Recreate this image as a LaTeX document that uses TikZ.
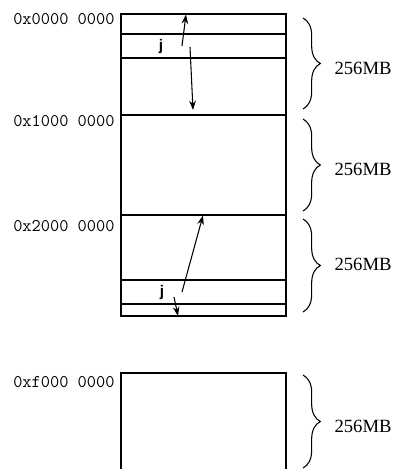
\documentclass[tikz,border=0pt]{standalone}
\usepackage{fontspec}
\setmainfont{Liberation Serif}
\setsansfont{Liberation Sans}
\usetikzlibrary{decorations.pathreplacing,arrows.meta,positioning}

\begin{document}
\begin{tikzpicture}[x=0.75pt,y=-0.75pt,>={Stealth[length=7pt,width=5pt]},line width=0.8pt,
        addr/.style={anchor=base east,inner sep=0pt,font=\ttfamily\fontsize{13.4}{15}\selectfont},
        size label/.style={anchor=base west,inner sep=0pt,font=\fontsize{14}{16}\selectfont},
        index label/.style={anchor=base,inner sep=0pt,font=\sffamily\bfseries\fontsize{11.5}{13}\selectfont},
        region brace/.style={decorate,decoration={brace,amplitude=13pt}}]
    \useasboundingbox (0,0) rectangle (393,469);

            % Memory

            \draw (121,14) rectangle (286,316);
            \foreach \y in {34,58,115,215,280,304} {
                \draw (121,\y) -- (286,\y);
            }
            \draw (121,469) -- (121,373) -- (286,373) -- (286,469);

            % Addresses

            \node [addr] (a0) at (115,24) {0x0000 0000};
            \node [addr] (a1) at (115,126) {0x1000 0000};
            \node [addr] (a2) at (115,231) {0x2000 0000};
            \node [addr] (af) at (115,387) {0xf000 0000};

            % Sizes

            \foreach \top/\bot/\base [count=\i] in {18/109/74,119/211/175,219/312/270,375/468/432} {
                \draw [region brace] (303,\top) -- (303,\bot);
                \node [size label] (s\i) at (334,\base) {256MB};
            }

            % Index j

            \node [index label] (j0) at (161,50) {j};
            \node [index label] (j1) at (162,296) {j};

            \coordinate (u0) at (182,46);
            \coordinate (v0) at (186,14.5);
            \coordinate (d0) at (190,47);
            \coordinate (e0) at (193,110);
            \coordinate (u1) at (182,292);
            \coordinate (v1) at (203,215.5);
            \coordinate (d1) at (174,297);
            \coordinate (e1) at (178,316);

            \path[->]
                  (u0) edge (v0)
                  (d0) edge (e0)
                  (u1) edge (v1)
                  (d1) edge (e1)
                ;
        \end{tikzpicture}
\end{document}
